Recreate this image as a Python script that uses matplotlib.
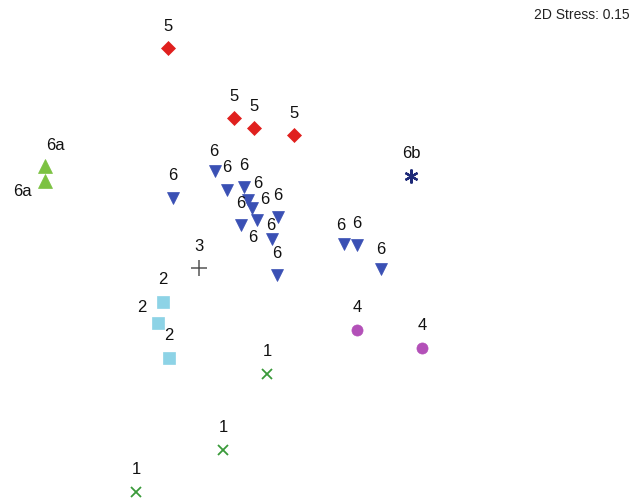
import matplotlib.pyplot as plt

plt.rcParams["font.family"] = ["Liberation Sans", "DejaVu Sans"]

# NMDS ordination points (picture coordinates, y grows downward)
groups = ["5", "6a", "6", "6b", "4", "2", "3", "1"]

x_5 = [168, 234, 254, 294]
y_5 = [48, 118, 128, 135]

x_6a = [45, 45]
y_6a = [166, 181]

x_6 = [173, 215, 227, 244, 248, 252, 278, 241, 257, 272, 277, 344, 357, 381]
y_6 = [198, 171, 190, 187, 200, 208, 217, 225, 220, 239, 275, 244, 245, 269]

x_6b = [411]
y_6b = [176]

x_4 = [357, 422]
y_4 = [330, 348]

x_2 = [163, 158, 169]
y_2 = [302, 323, 358]

x_3 = [199]
y_3 = [268]

x_1 = [267, 223, 136]
y_1 = [374, 450, 492]

stress = 0.15

points = {
    "5": (x_5, y_5),
    "6a": (x_6a, y_6a),
    "6": (x_6, y_6),
    "6b": (x_6b, y_6b),
    "4": (x_4, y_4),
    "2": (x_2, y_2),
    "3": (x_3, y_3),
    "1": (x_1, y_1),
}

styles = {
    "5": dict(marker="D", color="#e0201e", ms=7.6),
    "6a": dict(marker="^", color="#7cc242", ms=9.5),
    "6": dict(marker="v", color="#3a50b4", ms=9),
    "6b": dict(marker=(6, 2, 0), color="#1e2a78", ms=10, mew=1.6),
    "4": dict(marker="o", color="#b350b8", ms=8),
    "2": dict(marker="s", color="#8dd3e6", ms=8),
    "3": dict(marker="+", color="#555555", ms=11, mew=1.1),
    "1": dict(marker="x", color="#3a9a3a", ms=7.5, mew=1.3),
}

# label offsets in pixels (dx, dy), default is straight above
default_off = (0, -22)
label_offsets = {
    ("6a", 0): (10, -20),
    ("6a", 1): (-23, 11),
    ("6", 1): (-1, -19),
    ("6", 4): (10, -16),
    ("6", 5): (13, -9),
    ("6", 8): (-4, 17),
    ("6", 9): (-1, -14),
    ("6", 11): (-3, -19),
    ("6", 13): (0, -20),
    ("2", 1): (-16, -16),
}

fig = plt.figure(figsize=(6.35, 5.01), dpi=100)
ax = fig.add_axes([0, 0, 1, 1])
ax.set_xlim(0, 635)
ax.set_ylim(501, 0)
ax.axis("off")

for g in groups:
    xs, ys = points[g]
    st = styles[g]
    ax.plot(xs, ys, linestyle="none", marker=st["marker"], color=st["color"],
            markersize=st["ms"], markeredgewidth=st.get("mew", 0.5),
            markeredgecolor=st["color"])
    for i, (px, py) in enumerate(zip(xs, ys)):
        dx, dy = label_offsets.get((g, i), default_off)
        ax.text(px + dx, py + dy, g, ha="center", va="center",
                fontsize=12, color="#111111")

ax.text(630, 15, f"2D Stress: {stress:.2f}", ha="right", va="center",
        fontsize=10, color="#222222")

fig.savefig("out.png", dpi=100)
